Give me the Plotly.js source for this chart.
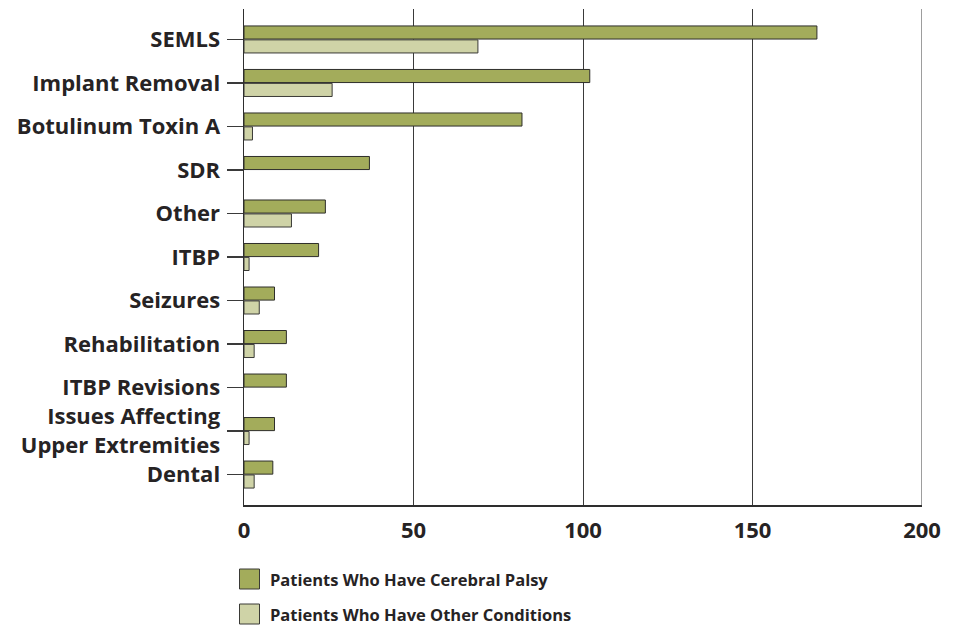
<!DOCTYPE html>
<html>
<head>
<meta charset="utf-8">
<script src="https://cdn.plot.ly/plotly-3.0.1.min.js"></script>
<style>
html,body{margin:0;padding:0;background:#fff;}
#chart{width:962px;height:626px;}
</style>
</head>
<body>
<div id="chart"></div>
<script>
var categories = ["SEMLS", "Implant Removal", "Botulinum Toxin A", "SDR", "Other", "ITBP",
  "Seizures", "Rehabilitation", "ITBP Revisions", "Issues Affecting<br>Upper Extremities", "Dental"];
var cerebralPalsy = [169, 102, 82, 37, 24, 22, 9, 12.5, 12.5, 9, 8.5];
var otherConditions = [69, 26, 2.5, null, 14, 1.5, 4.5, 3, null, 1.5, 3];
var seriesNames = ["Patients Who Have Cerebral Palsy", "Patients Who Have Other Conditions"];
var seriesColors = ["#a3ac5b", "#cfd3a7"];
var xTicks = [0, 50, 100, 150, 200];

var FONT = "'Open Sans', 'DejaVu Sans', sans-serif";
var TXT = "#262324";

var traces = [
  {type: "bar", orientation: "h", name: seriesNames[0], y: categories, x: cerebralPalsy,
   marker: {color: seriesColors[0], line: {color: "#2e2e2a", width: 1}}, hoverinfo: "x+y"},
  {type: "bar", orientation: "h", name: seriesNames[1], y: categories, x: otherConditions,
   marker: {color: seriesColors[1], line: {color: "#3a3a36", width: 1}}, hoverinfo: "x+y"}
];

var shapes = [], annotations = [];
// gridline at the right end of the value axis (200)
shapes.push({type: "line", xref: "x", yref: "paper", x0: xTicks[xTicks.length - 1], x1: xTicks[xTicks.length - 1],
  y0: 0, y1: 1, line: {color: "#3a3a3a", width: 1}, layer: "below"});
var legendY = [-74, -109];
for (var i = 0; i < seriesNames.length; i++) {
  shapes.push({type: "rect", xref: "paper", yref: "paper", xsizemode: "pixel", ysizemode: "pixel",
    xanchor: 0, yanchor: 0, x0: -4.5, x1: 15.5, y0: legendY[i] - 10, y1: legendY[i] + 10,
    fillcolor: seriesColors[i], line: {color: "#3a3a36", width: 1}});
  annotations.push({xref: "paper", yref: "paper", x: 0, y: 0, xshift: 24, yshift: legendY[i],
    xanchor: "left", yanchor: "middle", showarrow: false, text: seriesNames[i],
    font: {family: FONT, size: 16.5, color: TXT, weight: "bold"}});
}

var layout = {
  width: 962, height: 626,
  margin: {l: 243.5, r: 39.5, t: 9, b: 121, pad: 0},
  paper_bgcolor: "#fff", plot_bgcolor: "#fff",
  showlegend: false,
  barmode: "group", bargap: 0.36, bargroupgap: 0.06,
  font: {family: FONT, color: TXT},
  xaxis: {range: [0, 200], tickvals: xTicks, ticktext: xTicks.map(String),
    showgrid: true, gridcolor: "#3a3a3a", gridwidth: 1, zeroline: false,
    showline: true, linecolor: "#2e2e2e", linewidth: 1.5, ticks: "",
    ticklabelstandoff: 5,
    tickfont: {family: FONT, size: 22, color: TXT, weight: "bold"}, fixedrange: true},
  yaxis: {type: "category", range: [10.7, -0.7], showgrid: false, zeroline: false,
    showline: true, linecolor: "#2e2e2e", linewidth: 1.5,
    ticks: "outside", ticklen: 16, tickwidth: 1.2, tickcolor: "#3a3a3a",
    ticklabelstandoff: 2,
    tickfont: {family: FONT, size: 22, color: TXT, weight: "bold"}, fixedrange: true},
  shapes: shapes,
  annotations: annotations
};

Plotly.newPlot("chart", traces, layout, {displayModeBar: false, staticPlot: true});
</script>
</body>
</html>
